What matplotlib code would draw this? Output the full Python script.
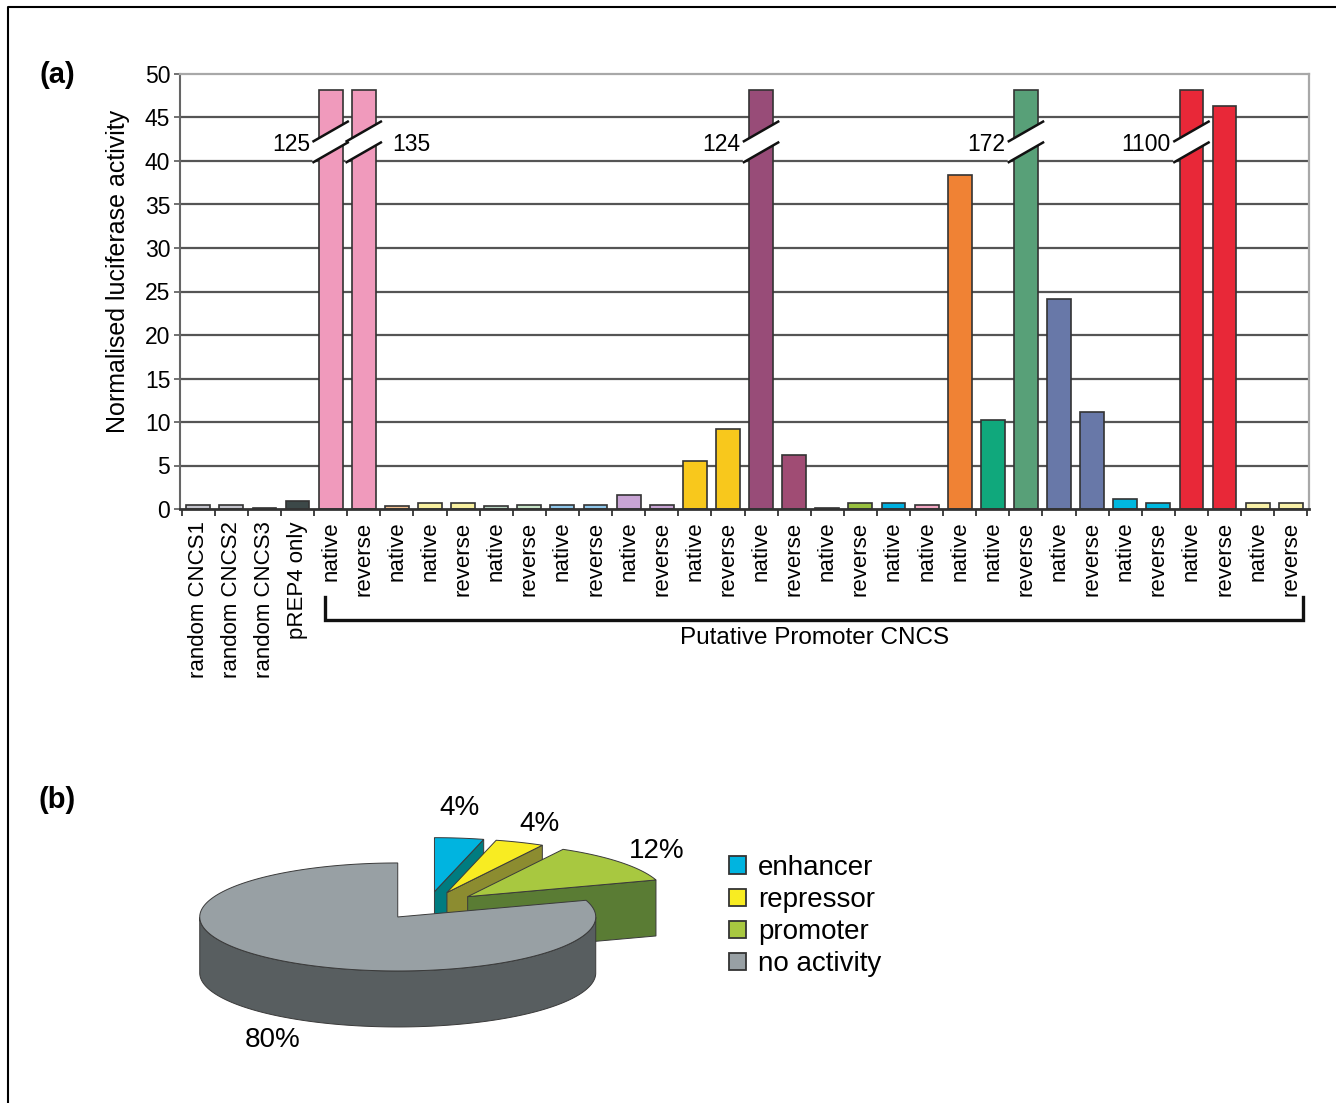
import numpy as np
import matplotlib
matplotlib.use("Agg")
import matplotlib.pyplot as plt
from matplotlib.patches import Polygon, Patch
from matplotlib.transforms import blended_transform_factory

plt.rcParams["font.family"] = ["Liberation Sans", "DejaVu Sans"]

# ---- panel (a) data ----
categories = [
    "random CNCS1", "random CNCS2", "random CNCS3", "pREP4 only",
    "native", "reverse", "native", "native", "reverse", "native", "reverse",
    "native", "reverse", "native", "reverse", "native", "reverse", "native",
    "reverse", "native", "reverse", "native", "native", "native", "native",
    "reverse", "native", "reverse", "native", "reverse", "native", "reverse",
    "native", "reverse",
]
activity = [
    0.5, 0.5, 0.1, 0.9,
    125, 135, 0.3, 0.7, 0.7, 0.3, 0.5,
    0.5, 0.5, 1.6, 0.5, 5.5, 9.2, 124,
    6.2, 0.1, 0.7, 0.7, 0.5, 38.4, 10.2,
    172, 24.1, 11.2, 1.1, 0.7, 1100, 46.3,
    0.7, 0.7,
]
bar_colors = [
    "#c4c4cc", "#c4c4cc", "#3a3a3a", "#3c4848",
    "#f09abc", "#f09abc", "#f4c090", "#f8f0a0", "#f8f0a0", "#b8d4c0", "#c8e4c8",
    "#90c8ec", "#90c8ec", "#c8a4d4", "#c8a4d4", "#f8c81c", "#f8c81c", "#984c78",
    "#a04c74", "#303030", "#98c040", "#00b0e0", "#f4a8c4", "#f08234", "#10a87c",
    "#58a078", "#6878a8", "#6878a8", "#00b8e0", "#00b8e0", "#e82838", "#e82838",
    "#f8f0a8", "#f8f0a8",
]
y_max = 50
bar_cap = 48.2          # broken bars are drawn up to this height
promoter_first = 4      # first "Putative Promoter CNCS" bar

# ---- panel (b) data ----
pie_labels = ["enhancer", "repressor", "promoter", "no activity"]
pie_pct = [4, 4, 12, 80]
pie_top = ["#00b4e0", "#f8ec22", "#a8c840", "#98a0a4"]
pie_side = ["#007c80", "#8c8c30", "#5a7c34", "#585e60"]

W, H = 1336, 1103


def draw_bars(fig):
    ax = fig.add_axes([180 / W, 1 - 509 / H, 1129 / W, 435 / H])
    x = np.arange(len(categories))
    shown = [min(v, bar_cap) for v in activity]
    ax.bar(x, shown, width=0.72, color=bar_colors, edgecolor="#333333",
           linewidth=1.2, zorder=2)

    ax.set_xlim(-0.55, len(categories) - 0.45)
    ax.set_ylim(0, y_max)
    ax.set_yticks(np.arange(0, y_max + 1, 5))
    for yv in range(5, y_max, 5):
        ax.axhline(yv, color="#555555", linewidth=1.6, zorder=1)

    # boundary ticks (major) and labels at bar centres (minor)
    ax.set_xticks(np.arange(-0.5, len(categories), 1.0))
    ax.set_xticklabels([])
    ax.set_xticks(x, minor=True)
    ax.set_xticklabels(categories, minor=True, rotation=90, fontsize=16,
                       va="top", ha="center")
    ax.tick_params(axis="x", which="major", length=5, width=1.3,
                   color="#333333", direction="out")
    ax.tick_params(axis="x", which="minor", length=0, pad=9)
    ax.tick_params(axis="y", length=4, width=1.3, color="#666666",
                   labelsize=16.5, pad=3)

    for side in ("top", "right"):
        ax.spines[side].set_color("#a8a8a8")
        ax.spines[side].set_linewidth(1.6)
    ax.spines["left"].set_color("#666666")
    ax.spines["left"].set_linewidth(1.5)
    ax.spines["bottom"].set_color("#333333")
    ax.spines["bottom"].set_linewidth(2.0)

    ax.set_ylabel("Normalised luciferase activity", fontsize=18)
    ax.yaxis.set_label_coords(-0.044, 0.547)

    # axis breaks for off-scale bars
    for i, v in enumerate(activity):
        if v <= y_max:
            continue
        xl, xr = i - 0.55, i + 0.55
        lo = [(xl, 39.8), (xr, 42.2)]
        hi = [(xl, 42.2), (xr, 44.6)]
        ax.add_patch(Polygon([lo[0], lo[1], hi[1], hi[0]], closed=True,
                             facecolor="white", edgecolor="none", zorder=3))
        for seg in (lo, hi):
            ax.plot([seg[0][0], seg[1][0]], [seg[0][1], seg[1][1]],
                    color="#111111", linewidth=1.8, zorder=4,
                    solid_capstyle="butt")
        if i == 5:
            ax.text(i + 0.85, 41.9, str(v), fontsize=16.5, ha="left",
                    va="center", zorder=5)
        else:
            ax.text(i - 0.62, 41.9, str(v), fontsize=16.5, ha="right",
                    va="center", zorder=5)

    # bracket for the putative promoter group
    tr = blended_transform_factory(ax.transData, ax.transAxes)
    x0 = promoter_first - 0.17
    x1 = len(categories) - 1 + 0.38
    ax.plot([x0, x0, x1, x1], [-0.203, -0.255, -0.255, -0.203],
            transform=tr, color="#111111", linewidth=2.4, clip_on=False,
            solid_joinstyle="miter")
    ax.text((x0 + x1) / 2, -0.296, "Putative Promoter CNCS", transform=tr,
            fontsize=17.5, ha="center", va="center")
    return ax


def ell(p, rx, ry, th):
    return (p[0] + rx * np.cos(th), p[1] - ry * np.sin(th))


def draw_pie(fig):
    ax = fig.add_axes([0, 0, 1, 1], zorder=-1)
    ax.set_xlim(0, W)
    ax.set_ylim(H, 0)
    ax.axis("off")

    # figure frame
    ax.plot([8, 8, W], [H, 7, 7], color="black", linewidth=1.5, clip_on=False)

    centre = (428.0, 905.6)
    rx, ry, depth, explode = 198.0, 54.0, 56.0, 0.26

    slices = []
    hi_deg = 90.0
    for k, pct in enumerate(pie_pct):
        lo_deg = hi_deg - pct * 3.6
        mid = np.radians((lo_deg + hi_deg) / 2)
        apex = (centre[0] + explode * rx * np.cos(mid),
                centre[1] - explode * ry * np.sin(mid))
        slices.append((apex[1], k, np.radians(lo_deg), np.radians(hi_deg), apex))
        hi_deg = lo_deg

    edge = dict(edgecolor="#3a3a3a", linewidth=0.7)
    for _, k, t0, t1, apex in sorted(slices):
        down = lambda pts: [(px, py + depth) for px, py in pts]
        # radial side faces facing the viewer
        for th, vis in ((t0, np.cos(t0) > 1e-6), (t1, np.cos(t1) < -1e-6)):
            if vis:
                tip = ell(apex, rx, ry, th)
                face = [apex, tip] + down([tip, apex])
                ax.add_patch(Polygon(face, closed=True,
                                     facecolor=pie_side[k], **edge))
        # curved outer wall, front half only
        ths = np.linspace(t0, t1, 300)
        front = ths[np.sin(ths) < 0]
        if len(front) > 1:
            arc = [ell(apex, rx, ry, t) for t in front]
            ax.add_patch(Polygon(arc + down(arc[::-1]), closed=True,
                                 facecolor=pie_side[k], **edge))
        top = [apex] + [ell(apex, rx, ry, t) for t in ths]
        ax.add_patch(Polygon(top, closed=True, facecolor=pie_top[k], **edge))

    label_pos = [(459, 808), (540, 824), (657, 851), (273, 1040)]
    for pct, (lx, ly) in zip(pie_pct, label_pos):
        ax.text(lx, ly, f"{pct}%", fontsize=20, ha="center", va="center")

    handles = [Patch(facecolor=c, edgecolor="#333333", linewidth=1.3)
               for c in pie_top]
    ax.legend(handles, pie_labels, loc="upper left", frameon=False,
              bbox_to_anchor=(729 / W, 1 - 855 / H), fontsize=20,
              handlelength=0.6, handleheight=0.6, handletextpad=0.45,
              labelspacing=0.22, borderaxespad=0, borderpad=0)
    return ax


def main():
    fig = plt.figure(figsize=(W / 100, H / 100), dpi=100)
    fig.patch.set_facecolor("white")
    draw_pie(fig)
    draw_bars(fig)
    fig.text(57 / W, 1 - 75 / H, "(a)", fontsize=21, fontweight="bold",
             ha="center", va="center")
    fig.text(57 / W, 1 - 800 / H, "(b)", fontsize=21, fontweight="bold",
             ha="center", va="center")
    fig.savefig("out.png", dpi=100)
    plt.close(fig)


if __name__ == "__main__":
    main()
